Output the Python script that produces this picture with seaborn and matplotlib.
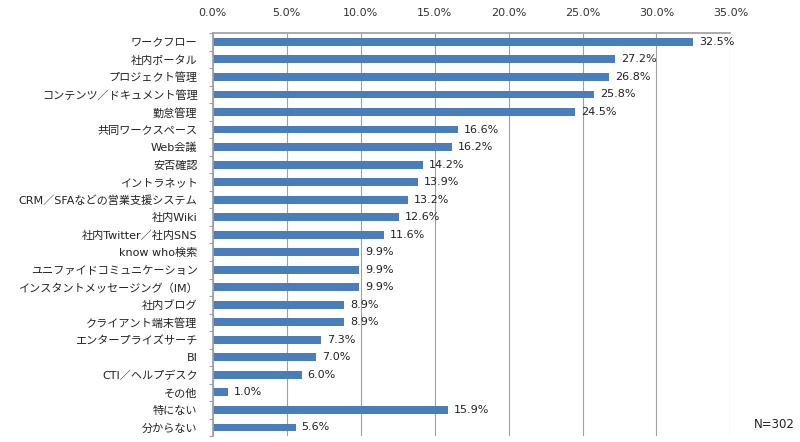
import matplotlib
matplotlib.use("Agg")
import matplotlib.pyplot as plt
import seaborn as sns
import pandas as pd
from matplotlib.ticker import FuncFormatter, MultipleLocator

categories = ["ワークフロー", "社内ポータル", "プロジェクト管理", "コンテンツ／ドキュメント管理", "勤怠管理",
              "共同ワークスペース", "Web会議", "安否確認", "イントラネット", "CRM／SFAなどの営業支援システム",
              "社内Wiki", "社内Twitter／社内SNS", "know who検索", "ユニファイドコミュニケーション",
              "インスタントメッセージング（IM）", "社内ブログ", "クライアント端末管理", "エンタープライズサーチ",
              "BI", "CTI／ヘルプデスク", "その他", "特にない", "分からない"]
values = [32.5, 27.2, 26.8, 25.8, 24.5, 16.6, 16.2, 14.2, 13.9, 13.2, 12.6, 11.6, 9.9, 9.9, 9.9,
          8.9, 8.9, 7.3, 7.0, 6.0, 1.0, 15.9, 5.6]
note = "N=302"

sns.set_theme(style="white")
plt.rcParams['font.family'] = ['DejaVu Sans', 'Noto Sans CJK JP']

df = pd.DataFrame({"cat": categories, "val": values})
fig = plt.figure(figsize=(8, 4.42), dpi=100)
ax = fig.add_axes([0.266, 0.013, 0.647, 0.912])
sns.barplot(data=df, y="cat", x="val", orient="h", color="#4A7EBB", saturation=1, width=0.45,
            linewidth=0, ax=ax)

ax.set_xlim(0, 35)
ax.set_ylim(len(categories) - 0.5, -0.5)
ax.xaxis.set_major_locator(MultipleLocator(5))
ax.xaxis.set_major_formatter(FuncFormatter(lambda v, p: f"{v:.1f}%"))
ax.xaxis.tick_top()
ax.tick_params(axis="x", top=False, bottom=False, labelsize=8, labelcolor="#333333", pad=5)
ax.tick_params(axis="y", which="major", left=False, labelsize=8, labelcolor="#222222", pad=5)
ax.set_xlabel("")
ax.set_ylabel("")
ax.grid(axis="x", color="#A0A0A0", linewidth=0.8)
ax.set_axisbelow(True)
for s in ["right", "bottom"]:
    ax.spines[s].set_visible(False)
ax.spines["top"].set_color("#A0A0A0")
ax.spines["left"].set_color("#A0A0A0")
ax.set_yticks([i + 0.5 for i in range(-1, len(categories))], minor=True)
ax.tick_params(axis="y", which="minor", left=True, length=3, width=0.8, color="#A0A0A0")

for i, v in enumerate(values):
    ax.text(v + 0.4, i, f"{v:.1f}%", va="center", ha="left", fontsize=8, color="#222222")

fig.text(0.993, 0.04, note, ha="right", va="center", fontsize=8.5, color="#222222")
fig.savefig("out.png", dpi=100)
